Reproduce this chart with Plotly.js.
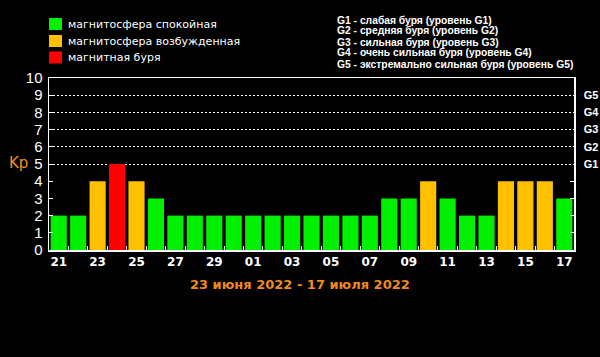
<!DOCTYPE html>
<html><head><meta charset="utf-8">
<script src="https://cdn.plot.ly/plotly-3.0.1.min.js"></script>
<style>html,body{margin:0;padding:0;background:#000;}#chart{width:600px;height:357px;}</style>
</head><body><div id="chart"></div>
<script>
// Data
const days = ['21','22','23','24','25','26','27','28','29','30','01','02','03','04','05','06','07','08','09','10','11','12','13','14','15','16','17'];
const kp =   [2,2,4,5,4,3,2,2,2,2,2,2,2,2,2,2,2,3,3,4,3,2,2,4,4,4,3];
const stateNames = ['магнитосфера спокойная','магнитосфера возбужденная','магнитная буря'];
const stateColors = ['#00f000','#ffc000','#ff0000'];
const gLevels = [5,6,7,8,9];
const gLabels = ['G1','G2','G3','G4','G5'];
const gDescriptions = [
  'G1 - слабая буря (уровень G1)',
  'G2 - средняя буря (уровень G2)',
  'G3 - сильная буря (уровень G3)',
  'G4 - очень сильная буря (уровень G4)',
  'G5 - экстремально сильная буря (уровень G5)'
];
const periodText = '23 июня 2022 - 17 июля 2022';

// Layout geometry
const W = 600, H = 357, L = 49, R = 574, T = 78, B = 250;
const px = x => (x - L) / (R - L);
const py = y => (B - y) / (B - T);

const idx = days.map((d, i) => i);
function state(v){ return v >= 5 ? 2 : (v >= 4 ? 1 : 0); }

const traces = stateNames.map((name, s) => ({
  type: 'bar',
  x: idx,
  y: kp.map(v => state(v) === s ? v : null),
  marker: {color: stateColors[s], line: {width: 0}},
  name: name, showlegend: false, hoverinfo: 'skip', xaxis: 'x', yaxis: 'y'
}));
traces.push({type:'scatter', x: idx, y: kp, mode:'markers', marker:{opacity:0}, yaxis:'y2', showlegend:false, hoverinfo:'skip'});

const tickIdx = idx.filter(i => i % 2 === 0);
const shapes = [];
const annotations = [];
const legendRows = [24, 41, 57.5];
stateNames.forEach((n, s) => {
  const cy = legendRows[s];
  shapes.push({type:'rect', xref:'paper', yref:'paper', x0: px(49), x1: px(62), y0: py(cy-6), y1: py(cy+6), fillcolor: stateColors[s], line:{width:0}, layer:'above'});
  annotations.push({xref:'paper', yref:'paper', x: px(66), y: py(cy), xanchor:'left', yanchor:'middle', text: n, showarrow:false, font:{family:'DejaVu Sans', size:11, color:'#ffffff'}});
});
gDescriptions.forEach((t, i) => {
  annotations.push({xref:'paper', yref:'paper', x: px(335), y: py(20 + i*11), xanchor:'left', yanchor:'middle', text: t, showarrow:false, font:{family:'Liberation Sans', size:10.3, color:'#ffffff', weight:'bold'}});
});
annotations.push({xref:'paper', yref:'paper', x: px(18), y: py(163), xanchor:'center', yanchor:'middle', text:'Kp', showarrow:false, font:{family:'DejaVu Sans', size:15, color:'#f0901a'}});
annotations.push({xref:'paper', yref:'paper', x: px(300), y: py(284), xanchor:'center', yanchor:'middle', text: periodText, showarrow:false, font:{family:'DejaVu Sans', size:13, color:'#f08a1c', weight:'bold'}});

const layout = {
  width: W, height: H,
  margin: {l: L, r: W - R, t: T, b: H - B, pad: 0},
  paper_bgcolor: '#000', plot_bgcolor: '#000',
  barmode: 'relative', bargap: 0.17,
  showlegend: false,
  xaxis: {
    range: [-0.5, days.length - 0.5], tickmode:'array', tickvals: tickIdx, ticktext: tickIdx.map(i => days[i]),
    ticks: '', showgrid: false, zeroline: false, showline: true, linecolor: '#fff', linewidth: 1.5, mirror: true,
    tickfont: {family:'DejaVu Sans', size:12, color:'#fff', weight:'bold'},
    minor: {tickmode:'array', tickvals: idx.slice(1).map(i => i - 0.5), ticks:'inside', ticklen:4, tickcolor:'#fff', tickwidth:1, showgrid:false},
    fixedrange: true
  },
  yaxis: {
    range: [0, 10], tickmode:'array', tickvals: [0,1,2,3,4,5,6,7,8,9,10],
    ticks:'inside', ticklen:4, tickcolor:'#fff', showgrid:false, zeroline:false, showline:true, linecolor:'#fff', linewidth:1.5,
    tickfont: {family:'Liberation Sans', size:15, color:'#fff'}, ticklabelstandoff: 2,
    minor: {tickmode:'array', tickvals: gLevels, ticks:'', showgrid:true, gridcolor:'#ffffff', griddash:'1.5px,2.5px', gridwidth:1},
    fixedrange: true
  },
  yaxis2: {
    overlaying:'y', side:'right', range:[0,10], tickmode:'array', tickvals: gLevels, ticktext: gLabels,
    ticks:'', showgrid:false, zeroline:false, showline:true, linecolor:'#fff', linewidth:1.5,
    tickfont: {family:'Liberation Sans', size:11, color:'#fff', weight:'bold'}, ticklabelstandoff: 6,
    minor: {tickmode:'array', tickvals:[1,2,3,4], ticks:'inside', ticklen:4, tickcolor:'#fff', showgrid:false},
    fixedrange: true
  },
  shapes: shapes,
  annotations: annotations
};
Plotly.newPlot('chart', traces, layout, {staticPlot:true, displayModeBar:false});
</script></body></html>
